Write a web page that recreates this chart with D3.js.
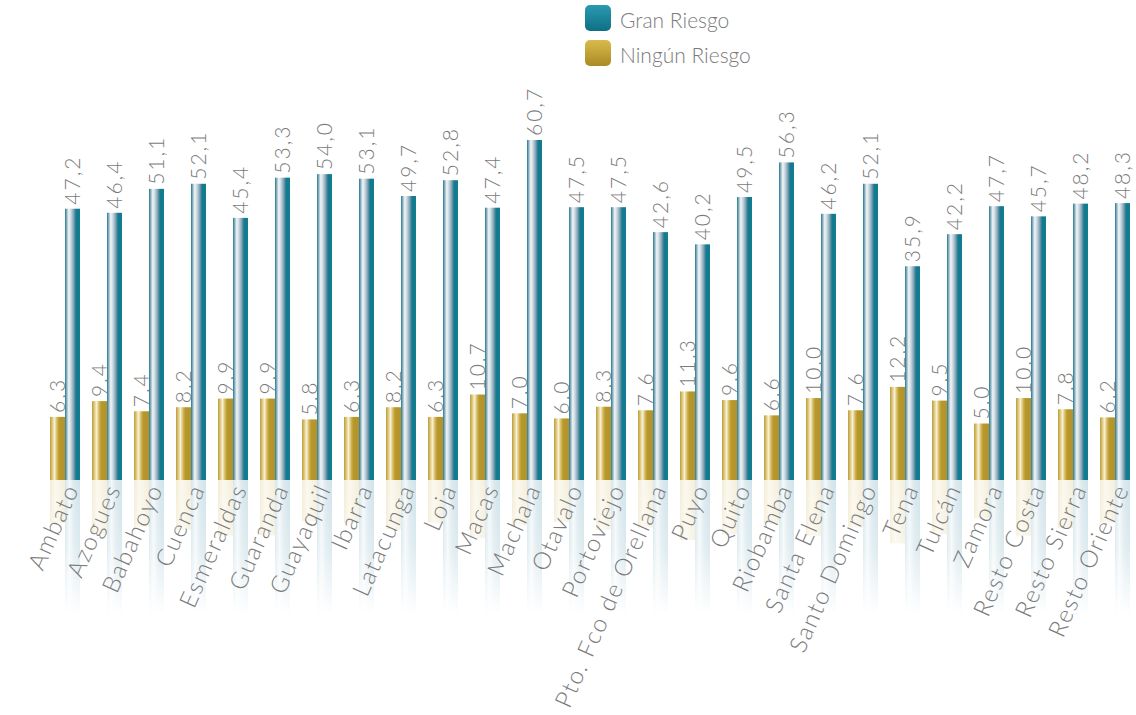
<!DOCTYPE html>
<html>
<head>
<meta charset="utf-8">
<script src="https://cdn.jsdelivr.net/npm/d3@7"></script>
<style>
  html, body { margin: 0; padding: 0; background: #fff; }
  svg { display: block; font-family: Lato, "Open Sans", sans-serif; }
</style>
</head>
<body>
<svg id="chart" width="1136" height="715"></svg>
<script>
const categories = ["Ambato","Azogues","Babahoyo","Cuenca","Esmeraldas","Guaranda","Guayaquil","Ibarra","Latacunga","Loja","Macas","Machala","Otavalo","Portoviejo","Pto. Fco de Orellana","Puyo","Quito","Riobamba","Santa Elena","Santo Domingo","Tena","Tulcán","Zamora","Resto Costa","Resto Sierra","Resto Oriente"];
const granRiesgo = [47.2,46.4,51.1,52.1,45.4,53.3,54.0,53.1,49.7,52.8,47.4,60.7,47.5,47.5,42.6,40.2,49.5,56.3,46.2,52.1,35.9,42.2,47.7,45.7,48.2,48.3];
const ningunRiesgo = [6.3,9.4,7.4,8.2,9.9,9.9,5.8,6.3,8.2,6.3,10.7,7.0,6.0,8.3,7.6,11.3,9.6,6.6,10.0,7.6,12.2,9.5,5.0,10.0,7.8,6.2];
const seriesNames = ["Ningún Riesgo", "Gran Riesgo"];

const svg = d3.select("#chart");
const baseY = 480;
const textColor = "#7b7b7b";
const fmt = v => d3.format(".1f")(v).replace(".", ",");

const x = d3.scaleBand().domain(categories).range([44, 1136]).paddingInner(0.286).paddingOuter(0.143);
const xs = d3.scaleBand().domain(seriesNames).range([0, x.bandwidth()]);
const y = d3.scaleLinear().domain([-6.1, 60.7]).range([baseY, 140]);

const defs = svg.append("defs");
function hGrad(id, stops) {
  const g = defs.append("linearGradient").attr("id", id).attr("x1", 0).attr("x2", 1).attr("y1", 0).attr("y2", 0);
  stops.forEach(([o, c]) => g.append("stop").attr("offset", o).attr("stop-color", c));
}
hGrad("goldBar", [[0, "#bc9c33"], [0.15, "#dcc67e"], [0.3, "#f7f0d6"], [0.48, "#d2b655"], [0.62, "#b8982c"], [1, "#b3932a"]]);
hGrad("tealBar", [[0, "#1a7a8f"], [0.1, "#7fa9b8"], [0.25, "#f2f6f8"], [0.4, "#c7d6de"], [0.55, "#8eaaba"], [0.68, "#3f8599"], [0.75, "#137b90"], [1, "#137b90"]]);
hGrad("goldRef", [[0, "#f3ecd6"], [0.35, "#fbf8ee"], [1, "#f4eedb"]]);
hGrad("tealRef", [[0, "#d4e6ec"], [0.3, "#f3f8fa"], [0.6, "#dce9ee"], [1, "#cfe3ea"]]);

// fade mask for the mirrored bars under the baseline
const fade = defs.append("linearGradient").attr("id", "fade").attr("gradientUnits", "userSpaceOnUse")
  .attr("x1", 0).attr("x2", 0).attr("y1", baseY).attr("y2", baseY + 135);
fade.append("stop").attr("offset", 0).attr("stop-color", "#fff").attr("stop-opacity", 1);
fade.append("stop").attr("offset", 0.5).attr("stop-color", "#fff").attr("stop-opacity", 0.75);
fade.append("stop").attr("offset", 1).attr("stop-color", "#fff").attr("stop-opacity", 0);
defs.append("mask").attr("id", "fadeMask").attr("maskUnits", "userSpaceOnUse")
  .attr("x", 0).attr("y", 0).attr("width", 1136).attr("height", 715)
  .append("rect").attr("x", 0).attr("y", baseY).attr("width", 1136).attr("height", 140).attr("fill", "url(#fade)");

function vGrad(id, top, bottom) {
  const g = defs.append("linearGradient").attr("id", id).attr("x1", 0).attr("x2", 0).attr("y1", 0).attr("y2", 1);
  g.append("stop").attr("offset", 0).attr("stop-color", top);
  g.append("stop").attr("offset", 1).attr("stop-color", bottom);
}
vGrad("legTeal", "#2a9ab0", "#0f6f84");
vGrad("legGold", "#d9bb4c", "#a98a24");

const rows = categories.map((c, i) => ({ c, vals: [
  { s: "Ningún Riesgo", v: ningunRiesgo[i], fill: "url(#goldBar)", ref: "url(#goldRef)" },
  { s: "Gran Riesgo", v: granRiesgo[i], fill: "url(#tealBar)", ref: "url(#tealRef)" }
]}));

// mirrored bars
const refl = svg.append("g").attr("mask", "url(#fadeMask)");
rows.forEach(r => r.vals.forEach(d => {
  const h = baseY - y(d.v);
  refl.append("rect")
    .attr("x", x(r.c) + xs(d.s)).attr("y", baseY)
    .attr("width", xs.bandwidth()).attr("height", h * 0.68)
    .attr("fill", d.ref);
}));

// bars and value labels
const bars = svg.append("g");
rows.forEach(r => r.vals.forEach(d => {
  const bx = x(r.c) + xs(d.s);
  bars.append("rect")
    .attr("x", bx).attr("y", y(d.v))
    .attr("width", xs.bandwidth()).attr("height", baseY - y(d.v))
    .attr("fill", d.fill);
  bars.append("text")
    .attr("transform", `translate(${bx + xs.bandwidth() / 2 - 1},${y(d.v) - 4}) rotate(-90)`)
    .attr("dominant-baseline", "central")
    .attr("fill", textColor)
    .attr("font-size", 21)
    .attr("letter-spacing", 2)
    .attr("font-weight", 300)
    .text(fmt(d.v));
}));

// category labels
const xAxis = svg.append("g");
categories.forEach(c => {
  xAxis.append("text")
    .attr("transform", `translate(${x(c) + x.bandwidth() / 2 + 6},${baseY + 5}) rotate(-66)`)
    .attr("text-anchor", "end")
    .attr("dominant-baseline", "central")
    .attr("fill", textColor)
    .attr("font-size", 24)
    .attr("letter-spacing", 1.6)
    .attr("font-weight", 300)
    .text(c);
});

// legend
const legendItems = [
  { name: "Gran Riesgo", fill: "url(#legTeal)" },
  { name: "Ningún Riesgo", fill: "url(#legGold)" }
];
const legend = svg.append("g").attr("transform", "translate(585,5)");
legendItems.forEach((d, i) => {
  const g = legend.append("g").attr("transform", `translate(0,${i * 35})`);
  g.append("rect").attr("width", 26).attr("height", 26).attr("rx", 5).attr("fill", d.fill);
  g.append("text").attr("x", 35).attr("y", 14).attr("dominant-baseline", "central")
    .attr("fill", textColor).attr("font-size", 21).attr("font-weight", 300).text(d.name);
});
</script>
</body>
</html>
